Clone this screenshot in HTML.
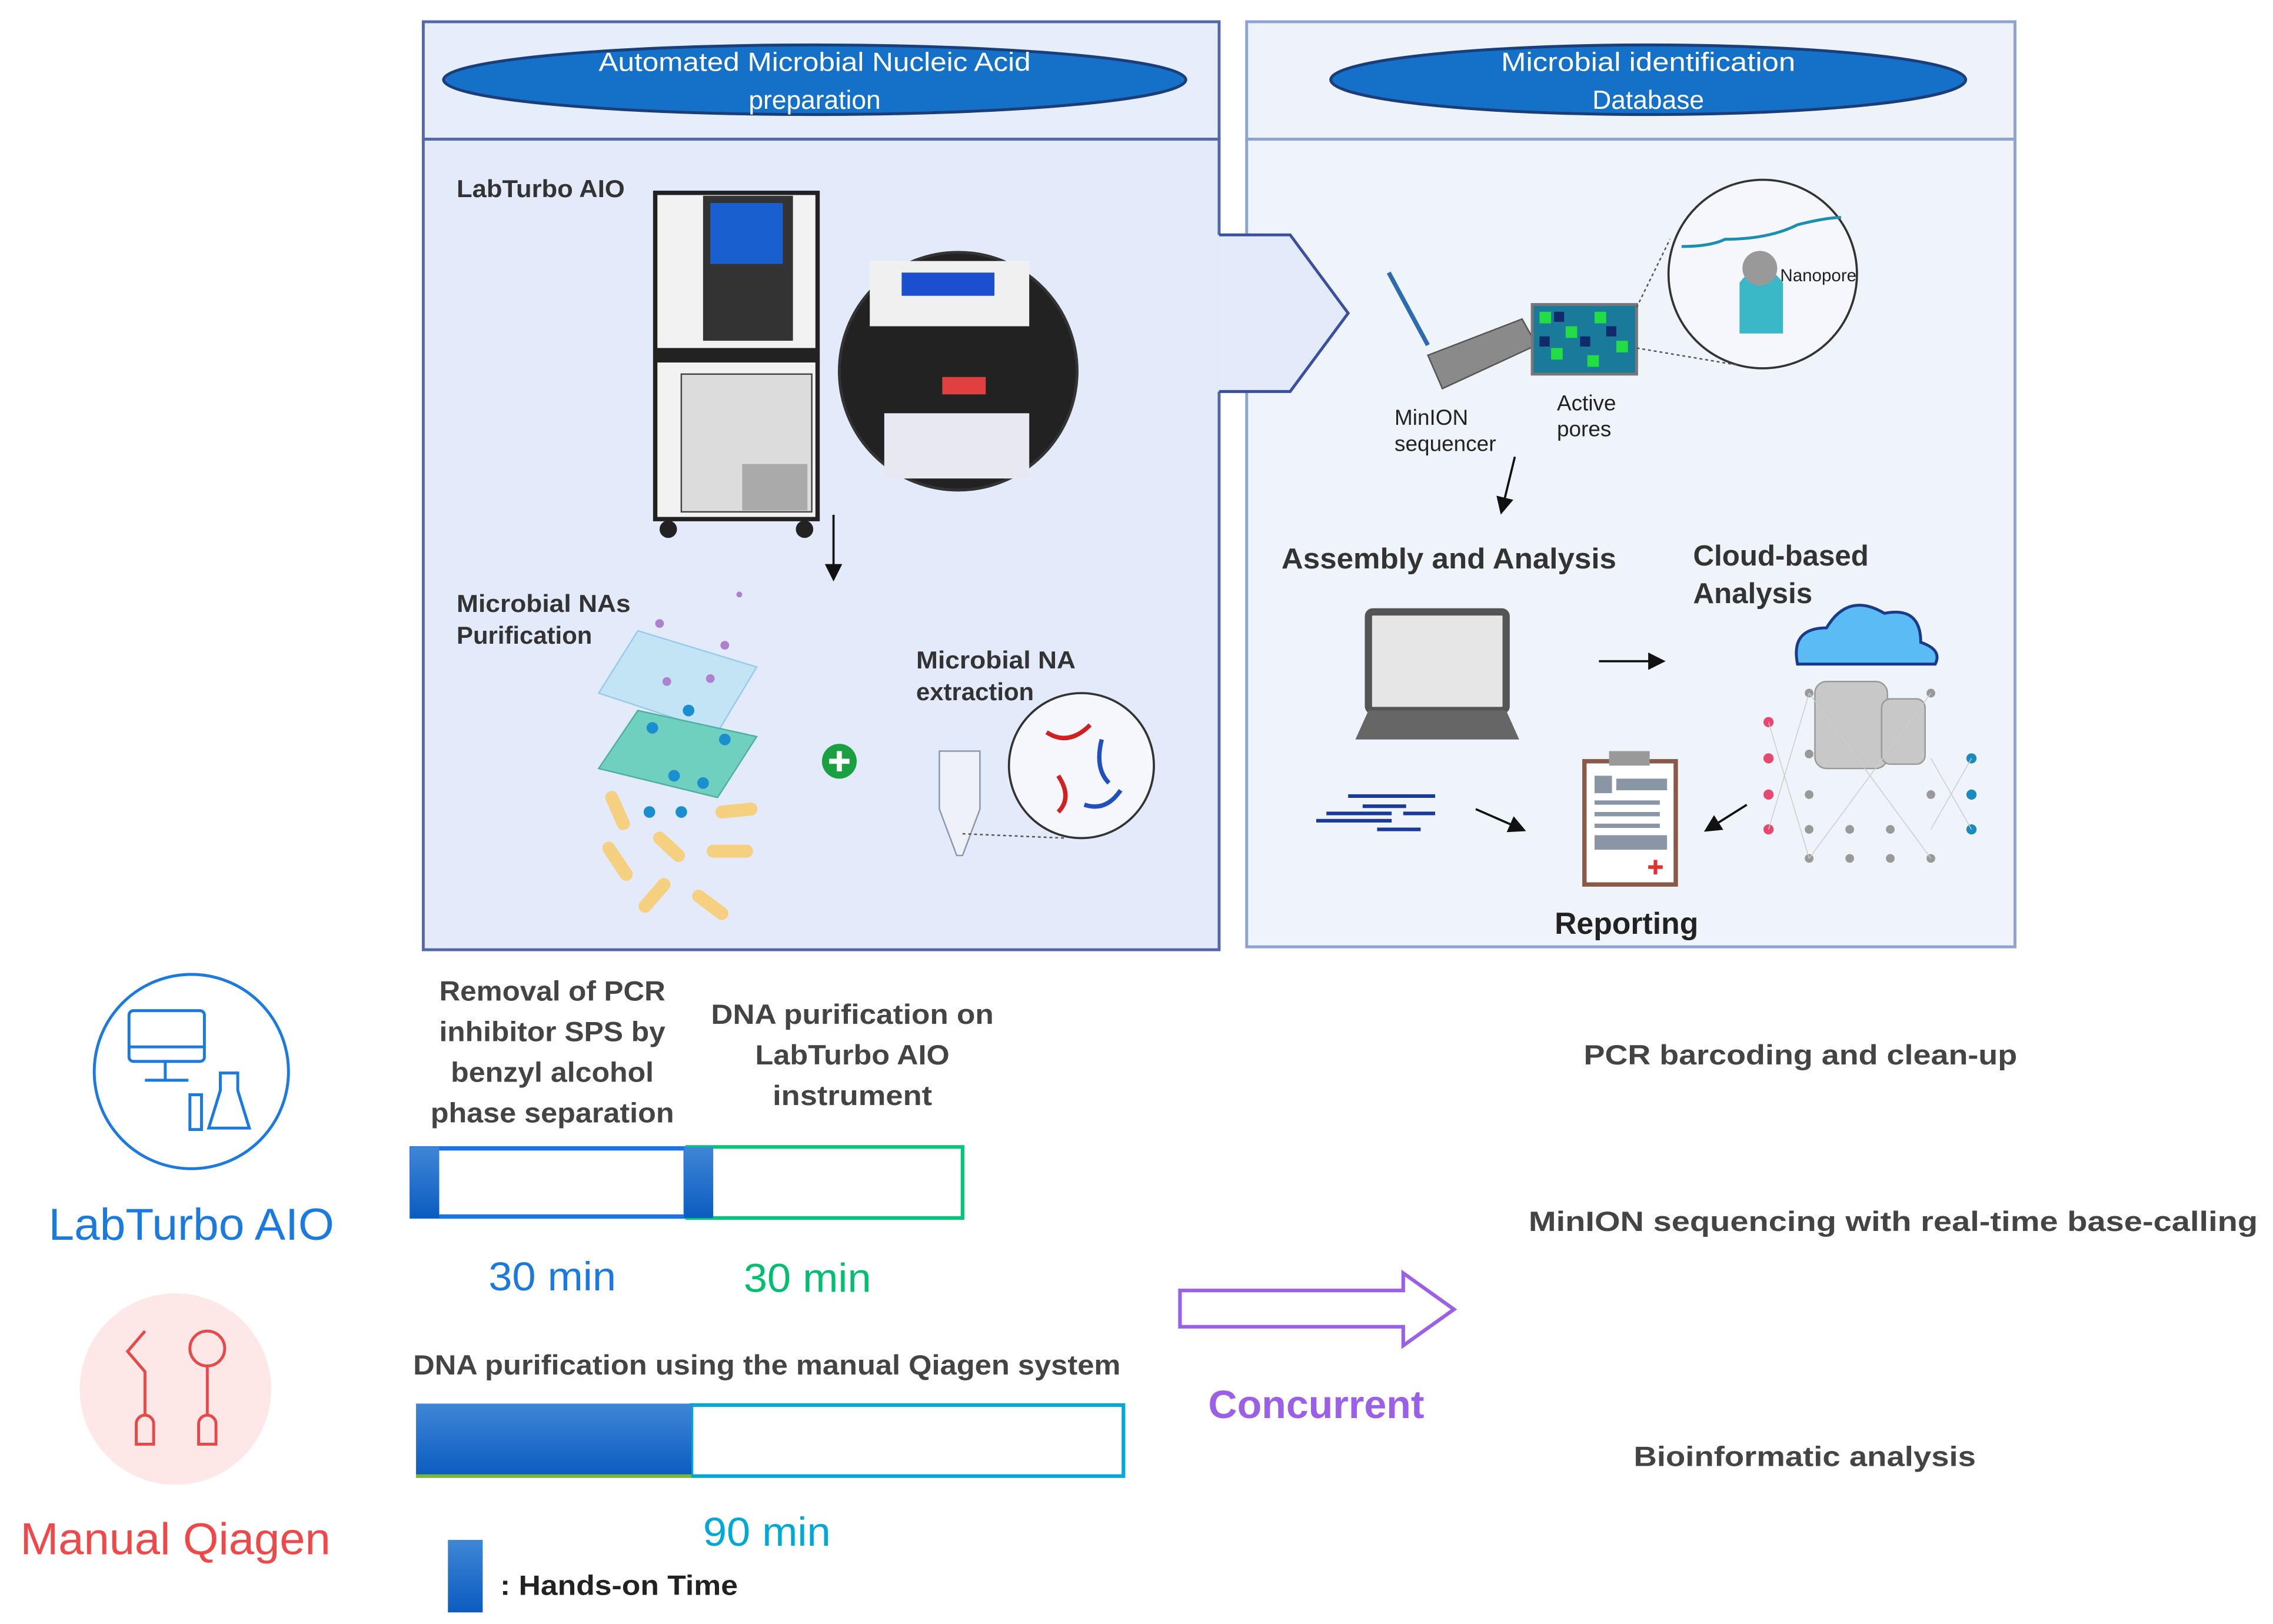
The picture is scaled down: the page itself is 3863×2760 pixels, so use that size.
<!DOCTYPE html>
<html><head><meta charset="utf-8"><style>html,body{margin:0;padding:0;background:#fff}svg{display:block}</style></head>
<body>
<svg width="3863" height="2760" viewBox="0 0 1568 1120" preserveAspectRatio="none" xmlns="http://www.w3.org/2000/svg" font-family="Liberation Sans, DejaVu Sans, sans-serif">
<defs>
<linearGradient id="bg1" x1="0" y1="0" x2="0" y2="1"><stop offset="0" stop-color="#3f86d6"/><stop offset="1" stop-color="#0b5cc0"/></linearGradient>
<marker id="ah" markerWidth="8" markerHeight="8" refX="6" refY="4" orient="auto"><path d="M0,0 L8,4 L0,8 z" fill="#111"/></marker>
</defs>
<!-- left panel -->
<rect x="292" y="15" width="549" height="81" fill="#e6edfb" stroke="#5468a8" stroke-width="2"/>
<rect x="292" y="96" width="549" height="559" fill="#e3ebfb" stroke="#5468a8" stroke-width="2"/>
<ellipse cx="562" cy="55" rx="256" ry="24" fill="#1570c8" stroke="#1a3e7a" stroke-width="2"/>
<text x="562" y="49" font-size="18" fill="#fff" text-anchor="middle" textLength="298" lengthAdjust="spacingAndGlyphs">Automated Microbial Nucleic Acid</text>
<text x="562" y="75" font-size="18" fill="#fff" text-anchor="middle">preparation</text>
<!-- right panel -->
<rect x="860" y="15" width="530" height="81" fill="#eef3fa" stroke="#8ea3cf" stroke-width="2"/>
<rect x="860" y="96" width="530" height="557" fill="#eff3fa" stroke="#8ea3cf" stroke-width="2"/>
<ellipse cx="1137" cy="55" rx="219" ry="24" fill="#1570c8" stroke="#1a3e7a" stroke-width="2"/>
<text x="1137" y="49" font-size="18" fill="#fff" text-anchor="middle" textLength="203" lengthAdjust="spacingAndGlyphs">Microbial identification</text>
<text x="1137" y="75" font-size="18" fill="#fff" text-anchor="middle">Database</text>
<!-- chevron -->
<polygon points="840,162 890,162 930,216 890,270 840,270" fill="#e3ebfb"/>
<polyline points="841,162 890,162 930,216 890,270 841,270" fill="none" stroke="#3a4fa0" stroke-width="2"/>
<!-- left content -->
<text x="315" y="136" font-size="17" font-weight="bold" fill="#333" textLength="116" lengthAdjust="spacingAndGlyphs">LabTurbo AIO</text>
<rect x="452" y="133" width="112" height="225" fill="#f2f2f2" stroke="#222" stroke-width="3"/>
<rect x="485" y="135" width="62" height="100" fill="#333"/>
<rect x="490" y="140" width="50" height="42" fill="#1a5fd0"/>
<rect x="452" y="240" width="112" height="10" fill="#222"/>
<rect x="470" y="258" width="90" height="95" fill="#dcdcdc" stroke="#444"/>
<rect x="512" y="320" width="45" height="32" fill="#aaa"/>
<circle cx="461" cy="365" r="6" fill="#222"/><circle cx="555" cy="365" r="6" fill="#222"/>
<circle cx="661" cy="256" r="82" fill="#222" stroke="#333" stroke-width="2"/>
<rect x="600" y="180" width="110" height="45" fill="#f0f0f0"/>
<rect x="622" y="188" width="64" height="16" fill="#1b4fd0"/>
<rect x="610" y="285" width="100" height="45" fill="#e8e8f0"/>
<rect x="650" y="260" width="30" height="12" fill="#e04040"/>
<line x1="575" y1="355" x2="575" y2="398" stroke="#111" stroke-width="1.5" marker-end="url(#ah)"/>
<text x="315" y="422" font-size="17" font-weight="bold" fill="#333" textLength="120" lengthAdjust="spacingAndGlyphs">Microbial NAs</text>
<text x="315" y="444" font-size="17" font-weight="bold" fill="#333">Purification</text>
<polygon points="440,435 522,460 495,505 413,478" fill="#bfe4f5" stroke="#8fc8e8" opacity="0.9"/>
<polygon points="440,490 522,508 495,550 413,530" fill="#6fd0c0" stroke="#4fb0a0"/>
<g fill="#1a8fd0"><circle cx="450" cy="502" r="4"/><circle cx="475" cy="490" r="4"/><circle cx="500" cy="510" r="4"/><circle cx="465" cy="535" r="4"/><circle cx="448" cy="560" r="4"/><circle cx="470" cy="560" r="4"/><circle cx="485" cy="540" r="4"/></g>
<g fill="#b080d0"><circle cx="460" cy="470" r="3"/><circle cx="490" cy="468" r="3"/><circle cx="500" cy="445" r="3"/><circle cx="455" cy="430" r="3"/><circle cx="510" cy="410" r="2"/></g>
<g stroke="#f5d080" stroke-width="9" stroke-linecap="round"><line x1="422" y1="550" x2="430" y2="568"/><line x1="498" y1="560" x2="518" y2="558"/><line x1="420" y1="585" x2="432" y2="603"/><line x1="455" y1="578" x2="468" y2="590"/><line x1="492" y1="587" x2="515" y2="587"/><line x1="445" y1="625" x2="458" y2="610"/><line x1="482" y1="618" x2="498" y2="630"/></g>
<circle cx="579" cy="525" r="12" fill="#1aa040"/>
<path d="M572,525h14M579,518v14" stroke="#fff" stroke-width="3.5"/>
<text x="632" y="461" font-size="17" font-weight="bold" fill="#333" textLength="110" lengthAdjust="spacingAndGlyphs">Microbial NA</text>
<text x="632" y="483" font-size="17" font-weight="bold" fill="#333">extraction</text>
<path d="M648,518 h28 v40 l-12,32 h-4 l-12,-32 z" fill="#eef2f8" stroke="#8899aa"/>
<circle cx="746" cy="528" r="50" fill="#f5f7fc" stroke="#333" stroke-width="1.5"/>
<g stroke-width="3" fill="none"><path d="M722,505 q15,10 30,-5" stroke="#d02020"/><path d="M760,510 q-5,20 5,30" stroke="#2050c0"/><path d="M730,535 q10,15 0,25" stroke="#d02020"/><path d="M748,555 q15,5 25,-10" stroke="#2050c0"/></g>
<line x1="664" y1="575" x2="735" y2="578" stroke="#555" stroke-dasharray="2,2"/>
<!-- right content -->
<line x1="958" y1="188" x2="985" y2="238" stroke="#2b6cb0" stroke-width="3"/>
<polygon points="985,245 1050,220 1060,238 995,268" fill="#8a8a8a" stroke="#555"/>
<rect x="1057" y="210" width="72" height="48" fill="#1a7a9a" stroke="#777" stroke-width="2"/>
<g fill="#22dd44"><rect x="1062" y="215" width="8" height="8"/><rect x="1080" y="225" width="8" height="8"/><rect x="1100" y="215" width="8" height="8"/><rect x="1115" y="235" width="8" height="8"/><rect x="1070" y="240" width="8" height="8"/><rect x="1095" y="245" width="8" height="8"/></g>
<g fill="#112a6a"><rect x="1072" y="215" width="7" height="7"/><rect x="1090" y="232" width="7" height="7"/><rect x="1108" y="225" width="7" height="7"/><rect x="1062" y="232" width="7" height="7"/></g>
<circle cx="1216" cy="189" r="65" fill="#f5f7fc" stroke="#333" stroke-width="1.5"/>
<path d="M1160,170 q20,0 30,-5 q30,0 50,-10 q20,-5 30,-5" stroke="#1a8fb0" stroke-width="2" fill="none"/>
<path d="M1200,195 q15,-20 30,0 v35 h-30 z" fill="#3ab8c8"/>
<circle cx="1214" cy="185" r="12" fill="#999"/>
<text x="1228" y="194" font-size="12" fill="#222">Nanopore</text>
<line x1="1129" y1="212" x2="1152" y2="165" stroke="#555" stroke-dasharray="2,2"/>
<line x1="1129" y1="240" x2="1200" y2="252" stroke="#555" stroke-dasharray="2,2"/>
<text x="962" y="293" font-size="15" fill="#222">MinION</text>
<text x="962" y="311" font-size="15" fill="#222">sequencer</text>
<text x="1074" y="283" font-size="15" fill="#222">Active</text>
<text x="1074" y="301" font-size="15" fill="#222">pores</text>
<line x1="1045" y1="315" x2="1036" y2="352" stroke="#111" stroke-width="1.5" marker-end="url(#ah)"/>
<text x="884" y="392" font-size="20" font-weight="bold" fill="#333" textLength="231" lengthAdjust="spacingAndGlyphs">Assembly and Analysis</text>
<text x="1168" y="390" font-size="20" font-weight="bold" fill="#333">Cloud-based</text>
<text x="1168" y="416" font-size="20" font-weight="bold" fill="#333">Analysis</text>
<rect x="944" y="422" width="95" height="68" rx="3" fill="#e6e6e6" stroke="#555" stroke-width="5"/>
<path d="M944,490 h95 l9,20 h-113 z" fill="#666"/>
<line x1="1103" y1="456" x2="1146" y2="456" stroke="#111" stroke-width="1.5" marker-end="url(#ah)"/>
<path d="M1240,458 q-5,-25 20,-25 q15,-25 40,-10 q25,-5 25,20 q15,5 10,15 z" fill="#5bbcf5" stroke="#1a3a8a" stroke-width="2"/>
<g fill="#c8c8c8" stroke="#999"><rect x="1252" y="470" width="50" height="60" rx="8"/><rect x="1298" y="482" width="30" height="45" rx="6"/></g>
<g fill="#999"><circle cx="1248" cy="478" r="3"/><circle cx="1248" cy="520" r="3"/><circle cx="1248" cy="548" r="3"/><circle cx="1248" cy="572" r="3"/><circle cx="1248" cy="592" r="3"/><circle cx="1276" cy="572" r="3"/><circle cx="1276" cy="592" r="3"/><circle cx="1304" cy="572" r="3"/><circle cx="1304" cy="592" r="3"/><circle cx="1332" cy="478" r="3"/><circle cx="1332" cy="548" r="3"/><circle cx="1332" cy="592" r="3"/></g>
<g fill="#e84870"><circle cx="1220" cy="498" r="3.5"/><circle cx="1220" cy="523" r="3.5"/><circle cx="1220" cy="548" r="3.5"/><circle cx="1220" cy="572" r="3.5"/></g>
<g fill="#1a8ac0"><circle cx="1360" cy="523" r="3.5"/><circle cx="1360" cy="548" r="3.5"/><circle cx="1360" cy="572" r="3.5"/></g>
<g stroke="#ccc" stroke-width="0.6"><path d="M1220,498L1248,592M1220,572L1248,478M1248,478L1332,592M1248,592L1332,478M1332,523L1360,572M1332,572L1360,523"/></g>
<g stroke="#1a3a9a" stroke-width="2.5"><line x1="930" y1="549" x2="990" y2="549"/><line x1="940" y1="556" x2="970" y2="556"/><line x1="915" y1="561" x2="960" y2="561"/><line x1="968" y1="561" x2="990" y2="561"/><line x1="908" y1="566" x2="960" y2="566"/><line x1="950" y1="572" x2="980" y2="572"/></g>
<line x1="1018" y1="558" x2="1050" y2="572" stroke="#111" stroke-width="1.5" marker-end="url(#ah)"/>
<line x1="1205" y1="555" x2="1178" y2="572" stroke="#111" stroke-width="1.5" marker-end="url(#ah)"/>
<rect x="1093" y="525" width="63" height="85" fill="#fff" stroke="#8a5a48" stroke-width="3"/>
<rect x="1110" y="518" width="28" height="10" fill="#999"/>
<g fill="#8a96a6"><rect x="1100" y="535" width="12" height="12"/><rect x="1115" y="537" width="35" height="8"/><rect x="1100" y="552" width="45" height="3"/><rect x="1100" y="560" width="45" height="3"/><rect x="1100" y="568" width="45" height="3"/><rect x="1100" y="576" width="50" height="10"/></g>
<path d="M1137,598h10M1142,593v10" stroke="#e03030" stroke-width="2.5"/>
<text x="1122" y="644" font-size="21" font-weight="bold" fill="#222" text-anchor="middle">Reporting</text>
<!-- bottom icons -->
<circle cx="132" cy="739" r="67" fill="none" stroke="#1a7ae0" stroke-width="2"/>
<g stroke="#1a7ae0" stroke-width="2" fill="none"><rect x="89" y="697" width="52" height="35" rx="3"/><line x1="89" y1="722" x2="141" y2="722"/><line x1="114" y1="732" x2="114" y2="745"/><line x1="100" y1="745" x2="130" y2="745"/><rect x="131" y="755" width="8" height="24"/><path d="M152,740 v12 l-8,26 h28 l-8,-26 v-12 z"/></g>
<text x="132" y="855" font-size="31" fill="#1a7ae0" text-anchor="middle" textLength="197" lengthAdjust="spacingAndGlyphs">LabTurbo AIO</text>
<circle cx="121" cy="958" r="66" fill="#fde7e7"/>
<g stroke="#e84848" stroke-width="2" fill="none"><path d="M100,918 l-12,14 l12,14 v30 M100,976 a6,6 0 0 0 -6,6 v14 h12 v-14 a6,6 0 0 0 -6,-6"/><circle cx="143" cy="930" r="12"/><path d="M143,942 v34 M143,976 a6,6 0 0 0 -6,6 v14 h12 v-14 a6,6 0 0 0 -6,-6"/></g>
<text x="121" y="1072" font-size="31" fill="#f04848" text-anchor="middle" textLength="214" lengthAdjust="spacingAndGlyphs">Manual Qiagen</text>
<!-- text labels -->
<g font-size="19" font-weight="bold" fill="#444" text-anchor="middle" lengthAdjust="spacingAndGlyphs">
<text x="381" y="690" textLength="156" lengthAdjust="spacingAndGlyphs">Removal of PCR</text>
<text x="381" y="718" textLength="156" lengthAdjust="spacingAndGlyphs">inhibitor SPS by</text>
<text x="381" y="746" textLength="140" lengthAdjust="spacingAndGlyphs">benzyl alcohol</text>
<text x="381" y="774" textLength="168" lengthAdjust="spacingAndGlyphs">phase separation</text>
<text x="588" y="706" textLength="195" lengthAdjust="spacingAndGlyphs">DNA purification on</text>
<text x="588" y="734" textLength="134" lengthAdjust="spacingAndGlyphs">LabTurbo AIO</text>
<text x="588" y="762" textLength="110" lengthAdjust="spacingAndGlyphs">instrument</text>
<text x="529" y="948" textLength="488" lengthAdjust="spacingAndGlyphs">DNA purification using the manual Qiagen system</text>
<text x="1242" y="734" textLength="299" lengthAdjust="spacingAndGlyphs">PCR barcoding and clean-up</text>
<text x="1306" y="849" textLength="503" lengthAdjust="spacingAndGlyphs">MinION sequencing with real-time base-calling</text>
<text x="1245" y="1011" textLength="236" lengthAdjust="spacingAndGlyphs">Bioinformatic analysis</text>
</g>
<!-- bars -->
<rect x="284" y="792" width="189" height="47" fill="#fff" stroke="#1a73e8" stroke-width="3"/>
<rect x="283" y="791" width="20" height="49" fill="url(#bg1)"/>
<rect x="474" y="791" width="190" height="49" fill="#fff" stroke="#00c878" stroke-width="2.5"/>
<rect x="472" y="791" width="20" height="49" fill="url(#bg1)"/>
<text x="381" y="890" font-size="28" fill="#1a7ae0" text-anchor="middle" textLength="88" lengthAdjust="spacingAndGlyphs">30 min</text>
<text x="557" y="891" font-size="28" fill="#00c070" text-anchor="middle" textLength="88" lengthAdjust="spacingAndGlyphs">30 min</text>
<rect x="477" y="969" width="298" height="49" fill="#fff" stroke="#00a8d8" stroke-width="2.5"/>
<rect x="287" y="968" width="190" height="50" fill="url(#bg1)"/>
<line x1="287" y1="1018" x2="477" y2="1018" stroke="#7ab830" stroke-width="2.5"/>
<text x="529" y="1066" font-size="28" fill="#00a8d8" text-anchor="middle" textLength="88" lengthAdjust="spacingAndGlyphs">90 min</text>
<rect x="309" y="1062" width="24" height="50" fill="url(#bg1)"/>
<text x="345" y="1100" font-size="19" font-weight="bold" fill="#222" textLength="164" lengthAdjust="spacingAndGlyphs">: Hands-on Time</text>
<!-- concurrent arrow -->
<polygon points="814,890 968,890 968,878 1003,903 968,928 968,915 814,915" fill="#fff" stroke="#9a60e8" stroke-width="2.5"/>
<text x="908" y="978" font-size="27" font-weight="bold" fill="#9a60e8" text-anchor="middle" textLength="149" lengthAdjust="spacingAndGlyphs">Concurrent</text>
</svg>
</body></html>
